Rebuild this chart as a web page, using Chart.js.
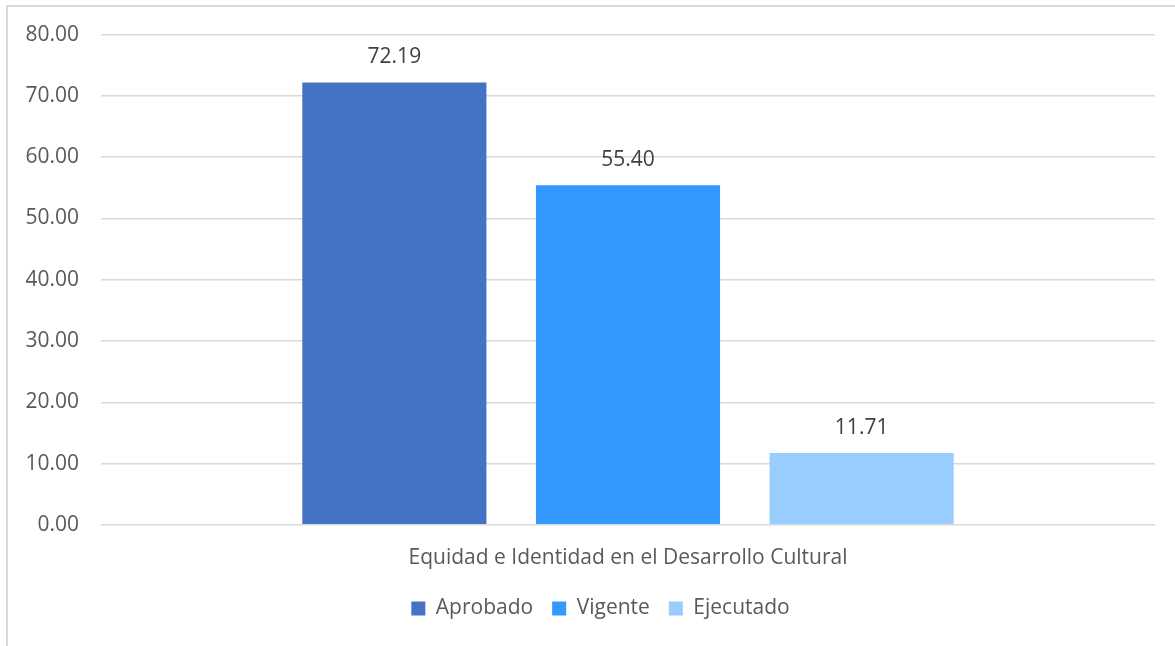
<!DOCTYPE html>
<html>
<head>
<meta charset="utf-8">
<script src="https://cdn.jsdelivr.net/npm/chart.js@4.4.1/dist/chart.umd.min.js"></script>
<style>
  body { margin: 0; background: #fff; }
  #frame { position: absolute; left: 6px; top: 5px; width: 1200px; height: 700px;
           border-left: 2px solid #d9d9d9; border-top: 2px solid #d9d9d9; }
  #wrap { position: absolute; left: 0; top: 0; width: 1175px; height: 646px; }
</style>
</head>
<body>
<div id="frame"></div>
<div id="wrap"><canvas id="budgetChart"></canvas></div>
<script>
// data
const categories = ["Equidad e Identidad en el Desarrollo Cultural"];
const seriesNames = ["Aprobado", "Vigente", "Ejecutado"];
const aprobado = [72.19];
const vigente = [55.40];
const ejecutado = [11.71];
const yTicks = [0, 10, 20, 30, 40, 50, 60, 70, 80];

const colors = ["#4472C4", "#3399FF", "#99CCFF"];
const textColor = "#595959";
const fontFamily = "'Open Sans', sans-serif";
const fontSize = 21;

// small plugin to write the value above each bar
const valueLabels = {
  id: 'valueLabels',
  afterDatasetsDraw(chart) {
    const ctx = chart.ctx;
    ctx.save();
    ctx.font = fontSize + "px " + fontFamily;
    ctx.fillStyle = "#404040";
    ctx.textAlign = "center";
    ctx.textBaseline = "middle";
    chart.data.datasets.forEach((ds, i) => {
      chart.getDatasetMeta(i).data.forEach((bar, j) => {
        ctx.fillText(ds.data[j].toFixed(2), bar.x, bar.y - 25);
      });
    });
    ctx.restore();
  }
};

// the reference legend sits a bit right of the canvas centre
const legendShift = {
  id: 'legendShift',
  afterLayout(chart) {
    if (chart.legend) chart.legend.left += 46;
  }
};

const seriesData = [aprobado, vigente, ejecutado];

new Chart(document.getElementById('budgetChart'), {
  type: 'bar',
  data: {
    labels: categories,
    datasets: seriesNames.map((name, i) => ({
      label: name,
      data: seriesData[i],
      backgroundColor: colors[i],
      borderWidth: 0,
      categoryPercentage: 0.665,
      barPercentage: 0.788
    }))
  },
  options: {
    responsive: true,
    maintainAspectRatio: false,
    animation: false,
    layout: { padding: { top: 28, right: 20, bottom: 17, left: 0 } },
    scales: {
      x: {
        grid: { display: false, drawTicks: false },
        border: { display: false },
        afterFit(scale) { scale.height = scale.height - 13; },
        ticks: { color: textColor, font: { family: fontFamily, size: fontSize }, padding: 21 }
      },
      y: {
        min: 0,
        max: 80,
        afterBuildTicks(scale) { scale.ticks = yTicks.map(v => ({ value: v })); },
        afterFit(scale) { scale.width = 101; },
        grid: { color: "#d9d9d9", lineWidth: 1.5, drawTicks: false },
        border: { display: false },
        ticks: {
          color: textColor,
          font: { family: fontFamily, size: fontSize },
          padding: 22,
          callback: v => v.toFixed(2)
        }
      }
    },
    plugins: {
      legend: {
        position: 'bottom',
        labels: {
          color: textColor,
          font: { family: fontFamily, size: fontSize },
          boxWidth: 14,
          boxHeight: 14,
          padding: 19
        }
      },
      tooltip: { enabled: false }
    }
  },
  plugins: [valueLabels, legendShift]
});
</script>
</body>
</html>
